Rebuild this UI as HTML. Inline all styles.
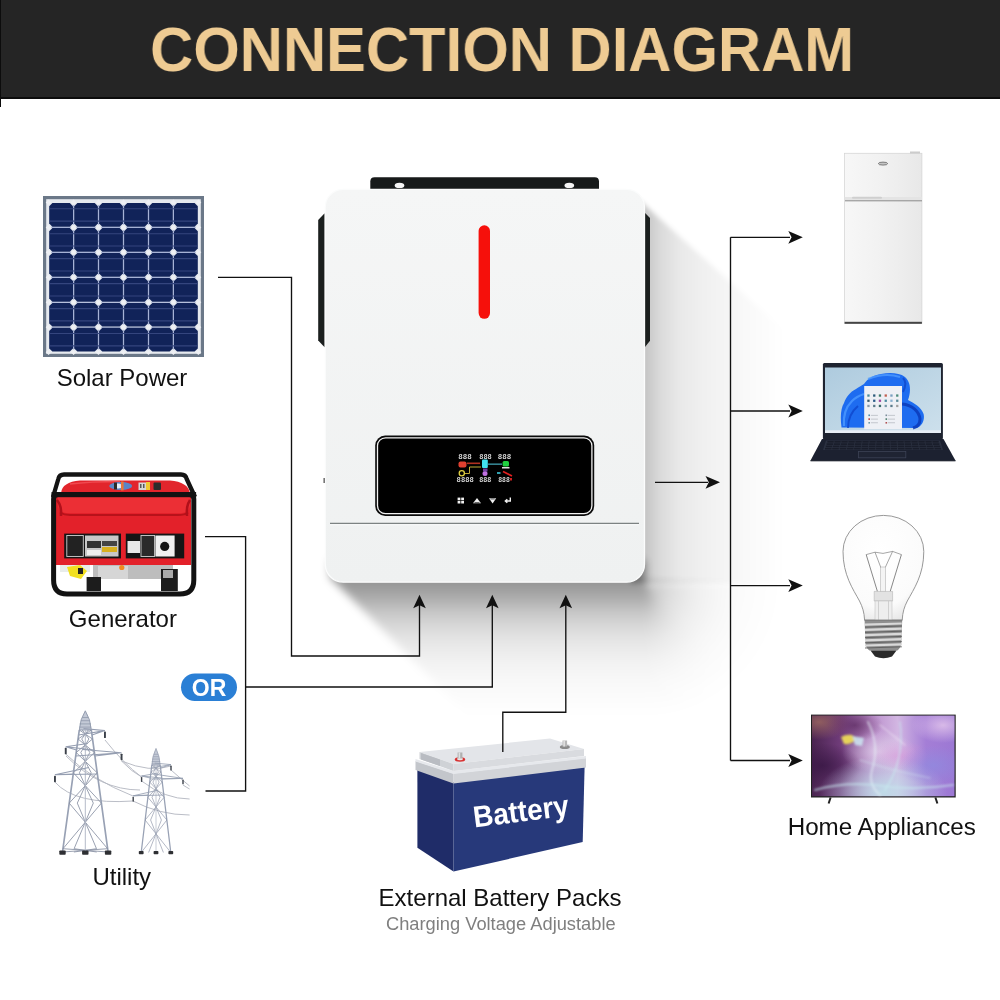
<!DOCTYPE html>
<html><head><meta charset="utf-8"><style>
html,body{margin:0;padding:0;background:#fff;width:1000px;height:1000px;overflow:hidden}
body{position:relative;font-family:"Liberation Sans", sans-serif}
</style></head><body>

<div style="position:absolute;left:0;top:0;width:1000px;height:97px;background:#252525"></div>
<div style="position:absolute;left:0;top:97px;width:1000px;height:2px;background:#0c0c0c"></div>
<div style="position:absolute;left:0;top:0;width:1.4px;height:107px;background:#0c0c0c"></div>
<div style="position:absolute;left:0;top:0;width:1000px;height:97px;overflow:hidden"><div id="title" style="position:absolute;left:150.4px;top:17.8px;font:bold 62.5px/1 'Liberation Sans', sans-serif;color:#eecb93;white-space:nowrap;transform-origin:0 0;transform:scaleX(0.9565);will-change:transform">CONNECTION DIAGRAM</div></div><div style="position:absolute;left:0;top:0;width:1000px;height:1000px;filter:blur(2.5px)"><div style="position:absolute;left:630px;top:180px;width:170px;height:600px;background:linear-gradient(to right,rgba(0,0,0,0.230) 0.0px,rgba(0,0,0,0.230) 15.0px,rgba(0,0,0,0.200) 20.0px,rgba(0,0,0,0.145) 30.0px,rgba(0,0,0,0.088) 50.0px,rgba(0,0,0,0.062) 70.0px,rgba(0,0,0,0.027) 110.0px,rgba(0,0,0,0.000) 155.0px);clip-path:polygon(11.0px 21.7px,160.0px 155.8px,160.0px 403.3px,0.0px 403.3px,0.0px 21.7px)"></div></div><div style="position:absolute;left:0;top:0;width:1000px;height:1000px;filter:blur(4px)"><div style="position:absolute;left:300px;top:560px;width:500px;height:180px;background:linear-gradient(to bottom,rgba(0,0,0,0.420) 0.0px,rgba(0,0,0,0.420) 22.0px,rgba(0,0,0,0.390) 27.0px,rgba(0,0,0,0.310) 40.0px,rgba(0,0,0,0.220) 52.0px,rgba(0,0,0,0.150) 67.0px,rgba(0,0,0,0.100) 80.0px,rgba(0,0,0,0.055) 100.0px,rgba(0,0,0,0.028) 120.0px,rgba(0,0,0,0.010) 140.0px,rgba(0,0,0,0.000) 157.0px);clip-path:polygon(30.0px 0.0px,345.0px 0.0px,345.0px 180.0px,192.8px 180.0px,30.0px 17.2px)"></div><div style="position:absolute;left:645px;top:582px;width:170px;height:170px;background:radial-gradient(circle at 0px 0px,rgba(0,0,0,0.420) 0.0px,rgba(0,0,0,0.390) 5.0px,rgba(0,0,0,0.310) 18.0px,rgba(0,0,0,0.220) 30.0px,rgba(0,0,0,0.150) 45.0px,rgba(0,0,0,0.100) 58.0px,rgba(0,0,0,0.055) 78.0px,rgba(0,0,0,0.028) 98.0px,rgba(0,0,0,0.010) 118.0px,rgba(0,0,0,0.000) 135.0px);-webkit-mask-image:conic-gradient(from 0deg at 0px 0px, transparent 0deg, transparent 89.5deg, rgba(0,0,0,0.5) 90deg, rgba(0,0,0,0.6) 135deg, #000 180deg, transparent 180.5deg);mask-image:conic-gradient(from 0deg at 0px 0px, transparent 0deg, transparent 89.5deg, rgba(0,0,0,0.5) 90deg, rgba(0,0,0,0.6) 135deg, #000 180deg, transparent 180.5deg)"></div></div><svg width="1000" height="1000" viewBox="0 0 1000 1000" style="position:absolute;left:0;top:0;will-change:transform" font-family='"Liberation Sans", sans-serif'>
<defs>
<filter id="blur3" x="-20%" y="-20%" width="140%" height="140%"><feGaussianBlur stdDeviation="2.5"/></filter>
<filter id="blur6" x="-20%" y="-20%" width="140%" height="140%"><feGaussianBlur stdDeviation="6"/></filter>
<filter id="blur10" x="-20%" y="-50%" width="140%" height="200%"><feGaussianBlur stdDeviation="10"/></filter>
<linearGradient id="botsh" gradientUnits="userSpaceOnUse" x1="0" y1="582" x2="0" y2="695"><stop offset="0" stop-color="#000" stop-opacity="0.25"/><stop offset="0.55" stop-color="#000" stop-opacity="0.12"/><stop offset="1" stop-color="#000" stop-opacity="0"/></linearGradient>
<radialGradient id="bulbg" cx="0.45" cy="0.35" r="0.7"><stop offset="0" stop-color="#ffffff"/><stop offset="0.75" stop-color="#fbfbfb"/><stop offset="1" stop-color="#e6e6e6"/></radialGradient>
<linearGradient id="invg" x1="0" y1="0" x2="0" y2="1"><stop offset="0" stop-color="#f5f6f6"/><stop offset="1" stop-color="#eff1f1"/></linearGradient>
<linearGradient id="fridg" x1="0" y1="0" x2="1" y2="0"><stop offset="0" stop-color="#f7f7f7"/><stop offset="0.5" stop-color="#f1f1f1"/><stop offset="1" stop-color="#e8e8e8"/></linearGradient>
<linearGradient id="scrg" x1="0" y1="0" x2="1" y2="1"><stop offset="0" stop-color="#aecbde"/><stop offset="1" stop-color="#cde0ec"/></linearGradient>
<linearGradient id="tvg" x1="0" y1="0" x2="1" y2="0"><stop offset="0" stop-color="#4a2450"/><stop offset="0.2" stop-color="#703c7a"/><stop offset="0.42" stop-color="#bb90cc"/><stop offset="0.6" stop-color="#d2b6e2"/><stop offset="0.8" stop-color="#a47ed6"/><stop offset="1" stop-color="#9c78d4"/></linearGradient>
<radialGradient id="tvr_dark" cx="0.07" cy="0.62" r="0.28"><stop offset="0" stop-color="#3a1846" stop-opacity="0.85"/><stop offset="1" stop-color="#3a1846" stop-opacity="0"/></radialGradient>
<radialGradient id="tvr_brown" cx="0.05" cy="0.08" r="0.22"><stop offset="0" stop-color="#9a6660" stop-opacity="0.85"/><stop offset="1" stop-color="#9a6660" stop-opacity="0"/></radialGradient>
<radialGradient id="tvr_light" cx="0.47" cy="0.45" r="0.26"><stop offset="0" stop-color="#ece6f4" stop-opacity="0.6"/><stop offset="1" stop-color="#ece6f4" stop-opacity="0"/></radialGradient>
<radialGradient id="tvr_cyan" cx="0.5" cy="0.95" r="0.45"><stop offset="0" stop-color="#bfe2ea" stop-opacity="0.9"/><stop offset="1" stop-color="#bfe2ea" stop-opacity="0"/></radialGradient>
<radialGradient id="tvr_pink" cx="0.62" cy="0.5" r="0.2"><stop offset="0" stop-color="#d48ed6" stop-opacity="0.55"/><stop offset="1" stop-color="#d48ed6" stop-opacity="0"/></radialGradient>
<radialGradient id="tvr_tr" cx="0.92" cy="0.12" r="0.22"><stop offset="0" stop-color="#f0d4f0" stop-opacity="0.7"/><stop offset="1" stop-color="#f0d4f0" stop-opacity="0"/></radialGradient>
<radialGradient id="tvr_blue" cx="0.85" cy="0.62" r="0.25"><stop offset="0" stop-color="#8a8ee2" stop-opacity="0.6"/><stop offset="1" stop-color="#8a8ee2" stop-opacity="0"/></radialGradient>
<radialGradient id="tvr_mag" cx="0.3" cy="0.12" r="0.2"><stop offset="0" stop-color="#5e2c62" stop-opacity="0.75"/><stop offset="1" stop-color="#6a3468" stop-opacity="0"/></radialGradient>
<filter id="blur08" x="-20%" y="-20%" width="140%" height="140%"><feGaussianBlur stdDeviation="0.8"/></filter>
</defs>
<path d="M370.3 189V181.5Q370.3 177.2 374.6 177.2H594.7Q599 177.2 599 181.5V189Z" fill="#171a1a"/>
<ellipse cx="399.5" cy="185.4" rx="4.8" ry="2.7" fill="#f6f6f6"/><ellipse cx="569.3" cy="185.4" rx="4.8" ry="2.7" fill="#f6f6f6"/>
<path d="M324.6 213.3L318.2 220V340.6L324.6 347.2Z" fill="#1b1f1e"/>
<path d="M644.6 212.5L650 218V340.8L644.6 347.4Z" fill="#1b1f1e"/>
<rect x="325.3" y="189.3" width="319.2" height="392.9" rx="18" fill="url(#invg)" stroke="#fbfcfc" stroke-width="1.3"/>
<rect x="478.6" y="225.3" width="11.4" height="93.5" rx="5.7" fill="#f6100b"/>
<rect x="375.2" y="435.5" width="219" height="80.5" rx="10" fill="#0a0a0a"/>
<rect x="377.5" y="437.8" width="214.4" height="75.9" rx="8" fill="#000" stroke="#f2f2f2" stroke-width="1.3"/>
<path d="M330 523.3H639" stroke="#7c8282" stroke-width="1.3"/>
<path d="M330 524.8H639" stroke="#fbfbfb" stroke-width="0.8"/>
<rect x="323.5" y="478" width="1.3" height="5" fill="#555"/>
<text x="458.3" y="458.6" font-family="Liberation Mono, monospace" font-weight="bold" font-size="7.4" fill="#d4d4d4" textLength="13.5" lengthAdjust="spacingAndGlyphs">888</text><text x="479.2" y="458.6" font-family="Liberation Mono, monospace" font-weight="bold" font-size="7.4" fill="#d4d4d4" textLength="12.6" lengthAdjust="spacingAndGlyphs">888</text><text x="497.8" y="458.6" font-family="Liberation Mono, monospace" font-weight="bold" font-size="7.4" fill="#d4d4d4" textLength="13.5" lengthAdjust="spacingAndGlyphs">888</text><text x="456.6" y="482.4" font-family="Liberation Mono, monospace" font-weight="bold" font-size="7.4" fill="#d4d4d4" textLength="17.2" lengthAdjust="spacingAndGlyphs">8888</text><text x="479.2" y="482.4" font-family="Liberation Mono, monospace" font-weight="bold" font-size="7.4" fill="#d4d4d4" textLength="12.2" lengthAdjust="spacingAndGlyphs">888</text><text x="498.2" y="482.4" font-family="Liberation Mono, monospace" font-weight="bold" font-size="7.4" fill="#d4d4d4" textLength="11.6" lengthAdjust="spacingAndGlyphs">888</text><rect x="458.5" y="461.5" width="8" height="6" rx="2" fill="#e04030"/><rect x="467" y="462.5" width="13" height="1.6" fill="#b03020"/><rect x="482" y="459.5" width="5.8" height="8.5" rx="1" fill="#40e0f0"/><rect x="488" y="463.5" width="14" height="1.3" fill="#40a0b0"/><rect x="502.6" y="461" width="6.4" height="5.5" rx="1.5" fill="#20d040"/><rect x="502" y="467" width="7.5" height="1.5" fill="#e0e0e0"/><path d="M464.5 473.5H469.5V467H481" stroke="#d8c040" stroke-width="0.9" fill="none"/><circle cx="461.8" cy="473.3" r="2.6" fill="none" stroke="#e0d040" stroke-width="1.3"/><circle cx="485" cy="473.6" r="2.5" fill="#c070e0"/><rect x="483" y="468.5" width="4.5" height="3" fill="#7040a0"/><rect x="497" y="472" width="3.5" height="2" fill="#30a0b0"/><path d="M503 471.5L512 476" stroke="#e02020" stroke-width="1.6"/><rect x="510" y="478" width="2" height="2.5" fill="#d02020"/><g fill="#f0f0f0"><rect x="457.6" y="497.6" width="2.8" height="2.6"/><rect x="461.2" y="497.6" width="2.8" height="2.6"/><rect x="457.6" y="500.9" width="2.8" height="2.6"/><rect x="461.2" y="500.9" width="2.8" height="2.6"/></g><path d="M473 503.2L477 498L481 503.2Z" fill="#f0f0f0"/><path d="M474.5 502.5H479.5" stroke="#111" stroke-width="0.6"/><path d="M489 498.2L492.6 503.4L496.2 498.2Z" fill="#f0f0f0"/><path d="M490.5 499H494.7" stroke="#111" stroke-width="0.6"/><path d="M510.3 497.5V501H505.6M507.3 499.2L505.3 501L507.3 502.8" stroke="#f0f0f0" stroke-width="1.4" fill="none"/>
<path d="M417.4 769L453.5 782.3V871.6L417.4 847.8Z" fill="#1f2c68"/>
<path d="M453.5 782.3L584.6 767L582.7 842L453.5 871.6Z" fill="#27397a"/>
<path d="M415.5 761L453.5 773.5V783.5L415.5 770Z" fill="#c3c6cb"/>
<path d="M453.5 773.5L586 758V767.5L453.5 783.5Z" fill="#d2d4d8"/>
<path d="M415.5 759L453.5 771L586 756V758.5L453.5 774L415.5 761.5Z" fill="#e6e8ec"/>
<path d="M419.5 752L453.5 764L584 749L550 738.5Z" fill="#e3e5e9"/>
<path d="M419.5 752L453.5 764V771L419.5 759Z" fill="#cfd2d6"/>
<path d="M453.5 764L584 749V756L453.5 771Z" fill="#d9dbdf"/>
<path d="M421 753L440 759.5V766L421 759.5Z" fill="#b9bcc2"/>
<ellipse cx="460" cy="759.5" rx="5.2" ry="2.2" fill="#d83232"/><ellipse cx="460" cy="759" rx="3" ry="1.2" fill="#e8e8e8"/><rect x="457.6" y="752.5" width="4.8" height="6" fill="#b0b0b0"/><rect x="458.6" y="752.5" width="1.6" height="6" fill="#e0e0e0"/>
<ellipse cx="564.8" cy="747" rx="5" ry="2" fill="#8a8a8a"/><rect x="562.5" y="740.5" width="4.6" height="6" fill="#b8b8b8"/><rect x="563.4" y="740.5" width="1.5" height="6" fill="#e4e4e4"/>
<text x="0" y="0" font-size="30" font-weight="bold" fill="#fff" transform="translate(474.5 827.5) rotate(-7.2) scale(0.93 1)">Battery</text>

<g stroke="#111" stroke-width="1.35" fill="none">
<path d="M218 277.3H291.5V656H419.5V605"/>
<path d="M205 536.6H245.6V791H205.5"/>
<path d="M245.6 687H492.3V605"/>
<path d="M502.8 752V712.2H565.8V605"/>
<path d="M655 482.3H708"/>
<path d="M730.5 237.3V760.5"/>
<path d="M730.5 237.3H790"/>
<path d="M730.5 411H790"/>
<path d="M730.5 585.6H790"/>
<path d="M730.5 760.5H790"/>
</g>
<g fill="#111">
<path d="M419.5 594.8 L425.8 608.3 L419.5 605.3 L413.2 608.3 Z"/><path d="M492.3 594.8 L498.6 608.3 L492.3 605.3 L486.0 608.3 Z"/><path d="M565.8 594.8 L572.1 608.3 L565.8 605.3 L559.5 608.3 Z"/><path d="M720.0 482.3 L705.5 475.9 L708.8 482.3 L705.5 488.7 Z"/><path d="M802.8 237.3 L788.3 230.9 L791.6 237.3 L788.3 243.7 Z"/><path d="M802.8 411.0 L788.3 404.6 L791.6 411.0 L788.3 417.4 Z"/><path d="M802.8 585.6 L788.3 579.2 L791.6 585.6 L788.3 592.0 Z"/><path d="M802.8 760.5 L788.3 754.1 L791.6 760.5 L788.3 766.9 Z"/></g>
<rect x="43" y="196" width="161" height="161" fill="#6b7888"/>
<rect x="46.2" y="199.2" width="154.6" height="154.6" fill="#e6eaef"/>
<path d="M73.57 203.0V351.4M49.2 227.37H197.8M98.53 203.0V351.4M49.2 252.33H197.8M123.50 203.0V351.4M49.2 277.30H197.8M148.47 203.0V351.4M49.2 302.27H197.8M173.43 203.0V351.4M49.2 327.23H197.8" stroke="#a6b2d6" stroke-width="1.2"/>
<g fill="#eef0f4"><polygon points="45.7,202.4 48.6,199.5 51.5,202.4 48.6,205.3"/><polygon points="70.7,202.4 73.6,199.5 76.5,202.4 73.6,205.3"/><polygon points="95.6,202.4 98.5,199.5 101.4,202.4 98.5,205.3"/><polygon points="120.6,202.4 123.5,199.5 126.4,202.4 123.5,205.3"/><polygon points="145.6,202.4 148.5,199.5 151.4,202.4 148.5,205.3"/><polygon points="170.5,202.4 173.4,199.5 176.3,202.4 173.4,205.3"/><polygon points="195.5,202.4 198.4,199.5 201.3,202.4 198.4,205.3"/><polygon points="45.7,227.4 48.6,224.5 51.5,227.4 48.6,230.3"/><polygon points="70.7,227.4 73.6,224.5 76.5,227.4 73.6,230.3"/><polygon points="95.6,227.4 98.5,224.5 101.4,227.4 98.5,230.3"/><polygon points="120.6,227.4 123.5,224.5 126.4,227.4 123.5,230.3"/><polygon points="145.6,227.4 148.5,224.5 151.4,227.4 148.5,230.3"/><polygon points="170.5,227.4 173.4,224.5 176.3,227.4 173.4,230.3"/><polygon points="195.5,227.4 198.4,224.5 201.3,227.4 198.4,230.3"/><polygon points="45.7,252.3 48.6,249.4 51.5,252.3 48.6,255.2"/><polygon points="70.7,252.3 73.6,249.4 76.5,252.3 73.6,255.2"/><polygon points="95.6,252.3 98.5,249.4 101.4,252.3 98.5,255.2"/><polygon points="120.6,252.3 123.5,249.4 126.4,252.3 123.5,255.2"/><polygon points="145.6,252.3 148.5,249.4 151.4,252.3 148.5,255.2"/><polygon points="170.5,252.3 173.4,249.4 176.3,252.3 173.4,255.2"/><polygon points="195.5,252.3 198.4,249.4 201.3,252.3 198.4,255.2"/><polygon points="45.7,277.3 48.6,274.4 51.5,277.3 48.6,280.2"/><polygon points="70.7,277.3 73.6,274.4 76.5,277.3 73.6,280.2"/><polygon points="95.6,277.3 98.5,274.4 101.4,277.3 98.5,280.2"/><polygon points="120.6,277.3 123.5,274.4 126.4,277.3 123.5,280.2"/><polygon points="145.6,277.3 148.5,274.4 151.4,277.3 148.5,280.2"/><polygon points="170.5,277.3 173.4,274.4 176.3,277.3 173.4,280.2"/><polygon points="195.5,277.3 198.4,274.4 201.3,277.3 198.4,280.2"/><polygon points="45.7,302.3 48.6,299.4 51.5,302.3 48.6,305.2"/><polygon points="70.7,302.3 73.6,299.4 76.5,302.3 73.6,305.2"/><polygon points="95.6,302.3 98.5,299.4 101.4,302.3 98.5,305.2"/><polygon points="120.6,302.3 123.5,299.4 126.4,302.3 123.5,305.2"/><polygon points="145.6,302.3 148.5,299.4 151.4,302.3 148.5,305.2"/><polygon points="170.5,302.3 173.4,299.4 176.3,302.3 173.4,305.2"/><polygon points="195.5,302.3 198.4,299.4 201.3,302.3 198.4,305.2"/><polygon points="45.7,327.2 48.6,324.3 51.5,327.2 48.6,330.1"/><polygon points="70.7,327.2 73.6,324.3 76.5,327.2 73.6,330.1"/><polygon points="95.6,327.2 98.5,324.3 101.4,327.2 98.5,330.1"/><polygon points="120.6,327.2 123.5,324.3 126.4,327.2 123.5,330.1"/><polygon points="145.6,327.2 148.5,324.3 151.4,327.2 148.5,330.1"/><polygon points="170.5,327.2 173.4,324.3 176.3,327.2 173.4,330.1"/><polygon points="195.5,327.2 198.4,324.3 201.3,327.2 198.4,330.1"/><polygon points="45.7,352.2 48.6,349.3 51.5,352.2 48.6,355.1"/><polygon points="70.7,352.2 73.6,349.3 76.5,352.2 73.6,355.1"/><polygon points="95.6,352.2 98.5,349.3 101.4,352.2 98.5,355.1"/><polygon points="120.6,352.2 123.5,349.3 126.4,352.2 123.5,355.1"/><polygon points="145.6,352.2 148.5,349.3 151.4,352.2 148.5,355.1"/><polygon points="170.5,352.2 173.4,349.3 176.3,352.2 173.4,355.1"/><polygon points="195.5,352.2 198.4,349.3 201.3,352.2 198.4,355.1"/></g>
<g fill="#112359"><polygon points="52.4,203.0 69.8,203.0 73.0,206.2 73.0,223.6 69.8,226.8 52.4,226.8 49.2,223.6 49.2,206.2"/><polygon points="77.4,203.0 94.7,203.0 97.9,206.2 97.9,223.6 94.7,226.8 77.4,226.8 74.2,223.6 74.2,206.2"/><polygon points="102.3,203.0 119.7,203.0 122.9,206.2 122.9,223.6 119.7,226.8 102.3,226.8 99.1,223.6 99.1,206.2"/><polygon points="127.3,203.0 144.7,203.0 147.9,206.2 147.9,223.6 144.7,226.8 127.3,226.8 124.1,223.6 124.1,206.2"/><polygon points="152.3,203.0 169.6,203.0 172.8,206.2 172.8,223.6 169.6,226.8 152.3,226.8 149.1,223.6 149.1,206.2"/><polygon points="177.2,203.0 194.6,203.0 197.8,206.2 197.8,223.6 194.6,226.8 177.2,226.8 174.0,223.6 174.0,206.2"/><polygon points="52.4,228.0 69.8,228.0 73.0,231.2 73.0,248.5 69.8,251.7 52.4,251.7 49.2,248.5 49.2,231.2"/><polygon points="77.4,228.0 94.7,228.0 97.9,231.2 97.9,248.5 94.7,251.7 77.4,251.7 74.2,248.5 74.2,231.2"/><polygon points="102.3,228.0 119.7,228.0 122.9,231.2 122.9,248.5 119.7,251.7 102.3,251.7 99.1,248.5 99.1,231.2"/><polygon points="127.3,228.0 144.7,228.0 147.9,231.2 147.9,248.5 144.7,251.7 127.3,251.7 124.1,248.5 124.1,231.2"/><polygon points="152.3,228.0 169.6,228.0 172.8,231.2 172.8,248.5 169.6,251.7 152.3,251.7 149.1,248.5 149.1,231.2"/><polygon points="177.2,228.0 194.6,228.0 197.8,231.2 197.8,248.5 194.6,251.7 177.2,251.7 174.0,248.5 174.0,231.2"/><polygon points="52.4,252.9 69.8,252.9 73.0,256.1 73.0,273.5 69.8,276.7 52.4,276.7 49.2,273.5 49.2,256.1"/><polygon points="77.4,252.9 94.7,252.9 97.9,256.1 97.9,273.5 94.7,276.7 77.4,276.7 74.2,273.5 74.2,256.1"/><polygon points="102.3,252.9 119.7,252.9 122.9,256.1 122.9,273.5 119.7,276.7 102.3,276.7 99.1,273.5 99.1,256.1"/><polygon points="127.3,252.9 144.7,252.9 147.9,256.1 147.9,273.5 144.7,276.7 127.3,276.7 124.1,273.5 124.1,256.1"/><polygon points="152.3,252.9 169.6,252.9 172.8,256.1 172.8,273.5 169.6,276.7 152.3,276.7 149.1,273.5 149.1,256.1"/><polygon points="177.2,252.9 194.6,252.9 197.8,256.1 197.8,273.5 194.6,276.7 177.2,276.7 174.0,273.5 174.0,256.1"/><polygon points="52.4,277.9 69.8,277.9 73.0,281.1 73.0,298.5 69.8,301.7 52.4,301.7 49.2,298.5 49.2,281.1"/><polygon points="77.4,277.9 94.7,277.9 97.9,281.1 97.9,298.5 94.7,301.7 77.4,301.7 74.2,298.5 74.2,281.1"/><polygon points="102.3,277.9 119.7,277.9 122.9,281.1 122.9,298.5 119.7,301.7 102.3,301.7 99.1,298.5 99.1,281.1"/><polygon points="127.3,277.9 144.7,277.9 147.9,281.1 147.9,298.5 144.7,301.7 127.3,301.7 124.1,298.5 124.1,281.1"/><polygon points="152.3,277.9 169.6,277.9 172.8,281.1 172.8,298.5 169.6,301.7 152.3,301.7 149.1,298.5 149.1,281.1"/><polygon points="177.2,277.9 194.6,277.9 197.8,281.1 197.8,298.5 194.6,301.7 177.2,301.7 174.0,298.5 174.0,281.1"/><polygon points="52.4,302.9 69.8,302.9 73.0,306.1 73.0,323.4 69.8,326.6 52.4,326.6 49.2,323.4 49.2,306.1"/><polygon points="77.4,302.9 94.7,302.9 97.9,306.1 97.9,323.4 94.7,326.6 77.4,326.6 74.2,323.4 74.2,306.1"/><polygon points="102.3,302.9 119.7,302.9 122.9,306.1 122.9,323.4 119.7,326.6 102.3,326.6 99.1,323.4 99.1,306.1"/><polygon points="127.3,302.9 144.7,302.9 147.9,306.1 147.9,323.4 144.7,326.6 127.3,326.6 124.1,323.4 124.1,306.1"/><polygon points="152.3,302.9 169.6,302.9 172.8,306.1 172.8,323.4 169.6,326.6 152.3,326.6 149.1,323.4 149.1,306.1"/><polygon points="177.2,302.9 194.6,302.9 197.8,306.1 197.8,323.4 194.6,326.6 177.2,326.6 174.0,323.4 174.0,306.1"/><polygon points="52.4,327.8 69.8,327.8 73.0,331.0 73.0,348.4 69.8,351.6 52.4,351.6 49.2,348.4 49.2,331.0"/><polygon points="77.4,327.8 94.7,327.8 97.9,331.0 97.9,348.4 94.7,351.6 77.4,351.6 74.2,348.4 74.2,331.0"/><polygon points="102.3,327.8 119.7,327.8 122.9,331.0 122.9,348.4 119.7,351.6 102.3,351.6 99.1,348.4 99.1,331.0"/><polygon points="127.3,327.8 144.7,327.8 147.9,331.0 147.9,348.4 144.7,351.6 127.3,351.6 124.1,348.4 124.1,331.0"/><polygon points="152.3,327.8 169.6,327.8 172.8,331.0 172.8,348.4 169.6,351.6 152.3,351.6 149.1,348.4 149.1,331.0"/><polygon points="177.2,327.8 194.6,327.8 197.8,331.0 197.8,348.4 194.6,351.6 177.2,351.6 174.0,348.4 174.0,331.0"/></g>
<path d="M49.7 208.7H197.3M49.7 221.1H197.3M49.7 233.7H197.3M49.7 246.0H197.3M49.7 258.6H197.3M49.7 271.0H197.3M49.7 283.6H197.3M49.7 296.0H197.3M49.7 308.6H197.3M49.7 320.9H197.3M49.7 333.5H197.3M49.7 345.9H197.3" stroke="#34457e" stroke-width="1.1" fill="none"/>
<path d="M53 497L58.3 479Q59.3 474.5 64 474.5H181Q185.7 474.5 186.7 479L195 497" stroke="#141414" stroke-width="4.3" fill="none"/>
<path d="M61 493Q62 482 80 480.5H170Q188 482 190 493Z" fill="#e2252c"/>
<path d="M70 484Q90 481.5 120 481.5" stroke="#f04a50" stroke-width="1.5" fill="none"/>
<ellipse cx="120.7" cy="486" rx="11.5" ry="4" fill="#5a86c8"/>
<ellipse cx="118" cy="486" rx="4" ry="2.5" fill="#e8eef8"/><rect x="114" y="482.5" width="3" height="7" fill="#2a2a2a"/>
<rect x="121" y="481.5" width="2.6" height="9" fill="#e8773a"/>
<rect x="138.5" y="482.5" width="7.5" height="7.5" fill="#d6d6d6"/><rect x="140" y="484" width="1.5" height="4" fill="#555"/><rect x="143" y="484" width="1.5" height="4" fill="#555"/>
<rect x="146" y="482" width="4" height="8" fill="#f0c830"/><rect x="153.5" y="482.5" width="7.5" height="7.5" rx="1" fill="#2c2c2c"/>
<rect x="56" y="497" width="135" height="68" fill="#e3212a"/>
<path d="M58 497H190V506Q189 512 182 513H66Q59 512 58 506Z" fill="#ec2f35"/>
<path d="M60 512.5Q64 515 70 515H178Q185 515 188 512.5" stroke="#b8121a" stroke-width="2" fill="none"/>
<path d="M57 500Q62 506 61 516" stroke="#b0101a" stroke-width="2.5" fill="none"/>
<path d="M190 500Q186 506 187 516" stroke="#b0101a" stroke-width="2.5" fill="none"/>
<rect x="51.5" y="492" width="144.6" height="5.2" fill="#141414"/>
<rect x="64.2" y="533.6" width="56.8" height="24.8" fill="#151515"/>
<rect x="125.8" y="533.6" width="58.4" height="24.8" fill="#151515"/>
<rect x="66.8" y="535.5" width="16.5" height="21" fill="#222" stroke="#cfcfcf" stroke-width="0.9"/>
<rect x="85" y="535.5" width="33.5" height="21" fill="#c8c8c8"/>
<rect x="87" y="541" width="14" height="7" fill="#333"/><rect x="102" y="541" width="15" height="5" fill="#444"/><rect x="102" y="547" width="15" height="5" fill="#d8b020"/><rect x="87" y="550" width="14" height="5" fill="#eee"/>
<rect x="127.5" y="541" width="12.5" height="12" fill="#e8e8e8"/>
<rect x="141" y="535.5" width="13.6" height="21" fill="#2a2a2a" stroke="#cfcfcf" stroke-width="0.9"/>
<rect x="155.4" y="535.5" width="19.2" height="21" fill="#f0f0f0"/>
<circle cx="164.7" cy="546.4" r="4.6" fill="#151515"/>
<rect x="93" y="565" width="80" height="14" fill="#bdbdbd"/>
<rect x="98" y="566" width="30" height="13" fill="#d6d6d6"/>
<rect x="60" y="565" width="30" height="7" fill="#e8ecea"/>
<path d="M67 567L80 565L87 571L81 579L70 576Z" fill="#f2e020"/>
<rect x="78" y="568" width="5" height="6" fill="#222"/>
<circle cx="121.8" cy="567.5" r="2.6" fill="#f08a20"/>
<rect x="86.6" y="577" width="14.4" height="14" fill="#1c1c1c"/>
<rect x="161" y="569" width="16.8" height="22" fill="#1c1c1c"/><rect x="163" y="570" width="10" height="8" fill="#aaa"/>
<path d="M53.6 499Q53.6 494.6 58 494.6H189.4Q193.8 494.6 193.8 499V580Q193.8 594 180 594H67Q53.6 594 53.6 580Z" stroke="#121212" stroke-width="5" fill="none"/>
<g stroke="#b2b6bf" stroke-width="0.9" fill="none"><path d="M105 740Q124 764 141.6 777"/><path d="M121.5 761Q132 772 141.6 777"/><path d="M65.7 754Q92 780 133 796"/><path d="M121.5 761Q150 773 171 766"/><path d="M54.9 782Q75 805 133 801"/><path d="M66 756Q100 790 140 790"/><path d="M171 770Q180 778 189.6 786"/><path d="M183 785Q186 787 189.6 789"/><path d="M141.6 781Q165 799 189.6 799"/><path d="M133 801Q160 815 189.6 815"/></g>
<path d="M85.3 710.8Q79.9 719.4 79.3 730.0L91.3 730.0Q90.7 719.4 85.3 710.8Z" fill="#c3c9d6" stroke="#8f98ab" stroke-width="0.90"/>
<path d="M82.4 717.5H88.2M81.0 720.7H89.6M79.6 723.9H91.0M79.3 727.1H91.3" stroke="#8a93a6" stroke-width="0.70"/>
<path d="M79.3 730.0L62.5 852.0M91.3 730.0L108.1 852.0" stroke="#98a1b4" stroke-width="1.70" fill="none"/>
<path d="M79.3 730.0L92.5 739.0M91.3 730.0L78.1 739.0M82.3 730.0L88.9 739.0M88.3 730.0L81.7 739.0M78.1 739.0L94.4 752.5M92.5 739.0L76.2 752.5M81.7 739.0L89.8 752.5M88.9 739.0L80.8 752.5M76.2 752.5L97.2 772.8M94.4 752.5L73.4 772.8M80.8 752.5L91.2 772.8M89.8 752.5L79.4 772.8M73.4 772.8L101.4 803.1M97.2 772.8L69.2 803.1M79.4 772.8L93.3 803.1M91.2 772.8L77.3 803.1M69.2 803.1L107.6 848.7M101.4 803.1L63.0 848.7M77.3 803.1L96.5 848.7M93.3 803.1L74.1 848.7M63.0 848.7L108.1 852.0M107.6 848.7L62.5 852.0M74.1 848.7L96.7 852.0M96.5 848.7L73.9 852.0" stroke="#8890a3" stroke-width="0.85" fill="none"/>
<path d="M85.3 730.0V852.0" stroke="#b4bbc8" stroke-width="1.00"/>
<path d="M83.5 728.5L104.9 730.6L92.0 735.0M78.6 735.0L104.9 730.6M87.8 743.5L65.7 746.8L76.5 750.0M94.1 750.0L65.7 746.8M82.6 749.5L121.5 752.7L94.9 756.0M75.7 756.0L121.5 752.7M88.8 767.5L54.9 774.7L73.2 774.0M97.4 774.0L54.9 774.7" stroke="#959eb1" stroke-width="1.10" fill="none"/>
<rect x="104.0" y="731.6" width="1.9" height="6.5" rx="0.6" fill="#3b4049"/><rect x="64.8" y="747.8" width="1.9" height="6.5" rx="0.6" fill="#3b4049"/><rect x="120.6" y="753.7" width="1.9" height="6.5" rx="0.6" fill="#3b4049"/><rect x="54.0" y="775.7" width="1.9" height="6.5" rx="0.6" fill="#3b4049"/>
<rect x="59.3" y="850.5" width="6.4" height="4.2" rx="0.8" fill="#2e2f33"/>
<rect x="82.1" y="850.5" width="6.4" height="4.2" rx="0.8" fill="#2e2f33"/>
<rect x="104.9" y="850.5" width="6.4" height="4.2" rx="0.8" fill="#2e2f33"/>
<path d="M156.0 748.4Q152.2 756.0 151.8 765.2L160.2 765.2Q159.8 756.0 156.0 748.4Z" fill="#c3c9d6" stroke="#8f98ab" stroke-width="0.68"/>
<path d="M153.9 754.3H158.1M153.1 756.7H158.9M152.3 759.1H159.7M151.8 761.5H160.2M151.8 763.9H160.2" stroke="#8a93a6" stroke-width="0.52"/>
<path d="M151.8 765.2L141.2 852.5M160.2 765.2L170.8 852.5" stroke="#98a1b4" stroke-width="1.27" fill="none"/>
<path d="M151.8 765.2L161.0 772.0M160.2 765.2L151.0 772.0M153.9 765.2L158.5 772.0M158.1 765.2L153.5 772.0M151.0 772.0L162.2 782.1M161.0 772.0L149.8 782.1M153.5 772.0L159.1 782.1M158.5 772.0L152.9 782.1M149.8 782.1L164.1 797.3M162.2 782.1L147.9 797.3M152.9 782.1L160.0 797.3M159.1 782.1L152.0 797.3M147.9 797.3L166.9 820.0M164.1 797.3L145.1 820.0M152.0 797.3L161.4 820.0M160.0 797.3L150.6 820.0M145.1 820.0L170.8 852.5M166.9 820.0L141.2 852.5M150.6 820.0L163.4 852.5M161.4 820.0L148.6 852.5" stroke="#8890a3" stroke-width="0.64" fill="none"/>
<path d="M156.0 765.2V852.5" stroke="#b4bbc8" stroke-width="0.75"/>
<path d="M154.7 763.1L171.0 764.6L160.5 768.0M151.5 768.0L171.0 764.6M157.6 773.1L141.6 776.0L150.2 778.0M161.8 778.0L141.6 776.0M154.3 774.1L183.0 778.4L161.9 779.0M150.1 779.0L183.0 778.4M158.2 790.1L133.2 795.8L148.2 795.0M163.8 795.0L133.2 795.8" stroke="#959eb1" stroke-width="0.83" fill="none"/>
<rect x="170.3" y="765.6" width="1.4" height="4.9" rx="0.6" fill="#3b4049"/><rect x="140.9" y="777.0" width="1.4" height="4.9" rx="0.6" fill="#3b4049"/><rect x="182.3" y="779.4" width="1.4" height="4.9" rx="0.6" fill="#3b4049"/><rect x="132.5" y="796.8" width="1.4" height="4.9" rx="0.6" fill="#3b4049"/>
<rect x="138.8" y="851.0" width="4.8" height="3.2" rx="0.8" fill="#2e2f33"/>
<rect x="153.6" y="851.0" width="4.8" height="3.2" rx="0.8" fill="#2e2f33"/>
<rect x="168.4" y="851.0" width="4.8" height="3.2" rx="0.8" fill="#2e2f33"/>

<rect x="181" y="673.5" width="56" height="27.5" rx="13.75" fill="#2a7fd5"/>
<text x="209" y="695.6" font-size="23" fill="#fff" font-weight="bold" text-anchor="middle" >OR</text>
<rect x="844.6" y="153.3" width="77.3" height="170" fill="url(#fridg)"/>
<rect x="844.6" y="153.3" width="77.3" height="170" fill="none" stroke="#d6d6d6" stroke-width="0.8"/>
<rect x="844.6" y="197" width="77.3" height="3.5" fill="#e4e4e4"/>
<path d="M845 200.8H922" stroke="#8a8a8a" stroke-width="1"/>
<rect x="852" y="196.8" width="30" height="2" rx="1" fill="#cfcfcf"/>
<ellipse cx="883" cy="163.6" rx="4.6" ry="1.5" fill="#c4c4c4" stroke="#555" stroke-width="0.7"/>
<rect x="844.6" y="321.8" width="77.3" height="2" fill="#444"/>
<rect x="910" y="151.5" width="10" height="2" fill="#ccc"/>
<rect x="822.9" y="363" width="120" height="76.5" rx="1.5" fill="#1e2330"/>
<rect x="825" y="367.5" width="116" height="65.5" fill="url(#scrg)"/>
<path d="M841.5 427.4C840 416 841 408 844 403C846 397 850 392 856 389C859 387 862 385 864 384C868 378 874 375 881 374C889 372.5 899 372.5 905 377C911 382 911 392 908 400C914 403 921 407 923.6 414C925 420 922 426 917 428Z" fill="#1e6cf0"/>
<path d="M844 426C843 415 846 407 852 401C856 397 861 395 864 394" stroke="#4a98ff" stroke-width="2.2" fill="none" opacity="0.85"/>
<path d="M848 428C848 418 852 411 858 406" stroke="#0e46cc" stroke-width="2" fill="none" opacity="0.8"/>
<path d="M868 379C878 375 890 374 900 377" stroke="#4d9bff" stroke-width="2" fill="none" opacity="0.8"/>
<path d="M902 404C912 405 919 411 920 419C920 424 917 427 913 428" stroke="#0a3ab8" stroke-width="3" fill="none" opacity="0.85"/>
<path d="M903 392C906 386 906 381 903 378" stroke="#0c42c4" stroke-width="2" fill="none" opacity="0.7"/>
<rect x="864.2" y="386" width="37.8" height="43.2" fill="#eef0f5"/>
<rect x="867.3" y="394.4" width="2.3" height="2.3" fill="#4a8a9a"/><rect x="873.1" y="394.4" width="2.3" height="2.3" fill="#2a5a7a"/><rect x="878.8" y="394.4" width="2.3" height="2.3" fill="#3a7a6a"/><rect x="884.6" y="394.4" width="2.3" height="2.3" fill="#c06050"/><rect x="890.3" y="394.4" width="2.3" height="2.3" fill="#7aa0c0"/><rect x="896.1" y="394.4" width="2.3" height="2.3" fill="#4a8a7a"/><rect x="867.3" y="399.6" width="2.3" height="2.3" fill="#3a5a6a"/><rect x="873.1" y="399.6" width="2.3" height="2.3" fill="#2a5a8a"/><rect x="878.8" y="399.6" width="2.3" height="2.3" fill="#a04aa0"/><rect x="884.6" y="399.6" width="2.3" height="2.3" fill="#4a8aa0"/><rect x="890.3" y="399.6" width="2.3" height="2.3" fill="#8ab0d0"/><rect x="896.1" y="399.6" width="2.3" height="2.3" fill="#5a8a9a"/><rect x="867.3" y="404.8" width="2.3" height="2.3" fill="#8a9aaa"/><rect x="873.1" y="404.8" width="2.3" height="2.3" fill="#5a7a8a"/><rect x="878.8" y="404.8" width="2.3" height="2.3" fill="#3a6a6a"/><rect x="884.6" y="404.8" width="2.3" height="2.3" fill="#7a9aaa"/><rect x="890.3" y="404.8" width="2.3" height="2.3" fill="#5a7a8a"/><rect x="896.1" y="404.8" width="2.3" height="2.3" fill="#a0a0a0"/><rect x="868.4" y="414.5" width="1.6" height="1.6" fill="#4a8aaa"/><rect x="870.9" y="414.9" width="7" height="0.8" fill="#b8bcc4"/><rect x="868.4" y="418.3" width="1.6" height="1.6" fill="#c04040"/><rect x="870.9" y="418.7" width="7" height="0.8" fill="#b8bcc4"/><rect x="868.4" y="422.0" width="1.6" height="1.6" fill="#6a9aaa"/><rect x="870.9" y="422.4" width="7" height="0.8" fill="#b8bcc4"/><rect x="885.5" y="414.5" width="1.6" height="1.6" fill="#7a8a9a"/><rect x="888.0" y="414.9" width="7" height="0.8" fill="#b8bcc4"/><rect x="885.5" y="418.3" width="1.6" height="1.6" fill="#4a7a6a"/><rect x="888.0" y="418.7" width="7" height="0.8" fill="#b8bcc4"/><rect x="885.5" y="422.0" width="1.6" height="1.6" fill="#b05050"/><rect x="888.0" y="422.4" width="7" height="0.8" fill="#b8bcc4"/>
<rect x="825" y="430.3" width="116" height="2.7" fill="#e8eef4"/>
<path d="M822 439H943.5L955.6 460.8H810.4Z" fill="#1c2130"/>
<path d="M826 440.5H940L943 450H823Z" fill="#2b3141"/>
<rect x="827.4" y="441.0" width="6.3" height="1.6" fill="#191d2a"/><rect x="834.4" y="441.0" width="6.3" height="1.6" fill="#191d2a"/><rect x="841.4" y="441.0" width="6.3" height="1.6" fill="#191d2a"/><rect x="848.4" y="441.0" width="6.3" height="1.6" fill="#191d2a"/><rect x="855.4" y="441.0" width="6.3" height="1.6" fill="#191d2a"/><rect x="862.4" y="441.0" width="6.3" height="1.6" fill="#191d2a"/><rect x="869.4" y="441.0" width="6.3" height="1.6" fill="#191d2a"/><rect x="876.4" y="441.0" width="6.3" height="1.6" fill="#191d2a"/><rect x="883.4" y="441.0" width="6.3" height="1.6" fill="#191d2a"/><rect x="890.4" y="441.0" width="6.3" height="1.6" fill="#191d2a"/><rect x="897.4" y="441.0" width="6.3" height="1.6" fill="#191d2a"/><rect x="904.4" y="441.0" width="6.3" height="1.6" fill="#191d2a"/><rect x="911.4" y="441.0" width="6.3" height="1.6" fill="#191d2a"/><rect x="918.4" y="441.0" width="6.3" height="1.6" fill="#191d2a"/><rect x="925.4" y="441.0" width="6.3" height="1.6" fill="#191d2a"/><rect x="932.4" y="441.0" width="6.3" height="1.6" fill="#191d2a"/><rect x="826.6" y="443.3" width="6.4" height="1.6" fill="#191d2a"/><rect x="833.7" y="443.3" width="6.4" height="1.6" fill="#191d2a"/><rect x="840.8" y="443.3" width="6.4" height="1.6" fill="#191d2a"/><rect x="847.9" y="443.3" width="6.4" height="1.6" fill="#191d2a"/><rect x="855.0" y="443.3" width="6.4" height="1.6" fill="#191d2a"/><rect x="862.1" y="443.3" width="6.4" height="1.6" fill="#191d2a"/><rect x="869.1" y="443.3" width="6.4" height="1.6" fill="#191d2a"/><rect x="876.2" y="443.3" width="6.4" height="1.6" fill="#191d2a"/><rect x="883.4" y="443.3" width="6.4" height="1.6" fill="#191d2a"/><rect x="890.5" y="443.3" width="6.4" height="1.6" fill="#191d2a"/><rect x="897.6" y="443.3" width="6.4" height="1.6" fill="#191d2a"/><rect x="904.6" y="443.3" width="6.4" height="1.6" fill="#191d2a"/><rect x="911.8" y="443.3" width="6.4" height="1.6" fill="#191d2a"/><rect x="918.9" y="443.3" width="6.4" height="1.6" fill="#191d2a"/><rect x="925.9" y="443.3" width="6.4" height="1.6" fill="#191d2a"/><rect x="933.0" y="443.3" width="6.4" height="1.6" fill="#191d2a"/><rect x="825.8" y="445.6" width="6.5" height="1.6" fill="#191d2a"/><rect x="833.0" y="445.6" width="6.5" height="1.6" fill="#191d2a"/><rect x="840.1" y="445.6" width="6.5" height="1.6" fill="#191d2a"/><rect x="847.4" y="445.6" width="6.5" height="1.6" fill="#191d2a"/><rect x="854.6" y="445.6" width="6.5" height="1.6" fill="#191d2a"/><rect x="861.8" y="445.6" width="6.5" height="1.6" fill="#191d2a"/><rect x="869.0" y="445.6" width="6.5" height="1.6" fill="#191d2a"/><rect x="876.1" y="445.6" width="6.5" height="1.6" fill="#191d2a"/><rect x="883.4" y="445.6" width="6.5" height="1.6" fill="#191d2a"/><rect x="890.6" y="445.6" width="6.5" height="1.6" fill="#191d2a"/><rect x="897.8" y="445.6" width="6.5" height="1.6" fill="#191d2a"/><rect x="905.0" y="445.6" width="6.5" height="1.6" fill="#191d2a"/><rect x="912.1" y="445.6" width="6.5" height="1.6" fill="#191d2a"/><rect x="919.4" y="445.6" width="6.5" height="1.6" fill="#191d2a"/><rect x="926.6" y="445.6" width="6.5" height="1.6" fill="#191d2a"/><rect x="933.8" y="445.6" width="6.5" height="1.6" fill="#191d2a"/><rect x="825.0" y="447.9" width="6.6" height="1.6" fill="#191d2a"/><rect x="832.2" y="447.9" width="6.6" height="1.6" fill="#191d2a"/><rect x="839.6" y="447.9" width="6.6" height="1.6" fill="#191d2a"/><rect x="846.9" y="447.9" width="6.6" height="1.6" fill="#191d2a"/><rect x="854.1" y="447.9" width="6.6" height="1.6" fill="#191d2a"/><rect x="861.5" y="447.9" width="6.6" height="1.6" fill="#191d2a"/><rect x="868.8" y="447.9" width="6.6" height="1.6" fill="#191d2a"/><rect x="876.1" y="447.9" width="6.6" height="1.6" fill="#191d2a"/><rect x="883.4" y="447.9" width="6.6" height="1.6" fill="#191d2a"/><rect x="890.6" y="447.9" width="6.6" height="1.6" fill="#191d2a"/><rect x="898.0" y="447.9" width="6.6" height="1.6" fill="#191d2a"/><rect x="905.2" y="447.9" width="6.6" height="1.6" fill="#191d2a"/><rect x="912.6" y="447.9" width="6.6" height="1.6" fill="#191d2a"/><rect x="919.9" y="447.9" width="6.6" height="1.6" fill="#191d2a"/><rect x="927.1" y="447.9" width="6.6" height="1.6" fill="#191d2a"/><rect x="934.5" y="447.9" width="6.6" height="1.6" fill="#191d2a"/>
<rect x="858.6" y="451.4" width="47.2" height="6.4" fill="#1f2433" stroke="#3c4356" stroke-width="0.8"/>
<path d="M810.5 460.8H955.5" stroke="#111522" stroke-width="1"/>
<path d="M864.6 620.2C864.2 612 862.5 607 859.5 601C853 589 843 575 843 551.4A40.4 36 0 0 1 923.8 551.4C923.8 575 913.8 589 907.3 601C904.3 607 902.6 612 902.2 620.2Z" fill="url(#bulbg)" stroke="#8c8c8c" stroke-width="0.9"/>
<path d="M866.2 554.6L877.4 591.4M901.4 554.6L890.2 591.4" stroke="#555" stroke-width="0.7" fill="none"/>
<path d="M866.2 554.6L875 552.2L883 553.4L892.6 551.4L901.4 554.6M875 552.2L881 568M892.6 551.4L885 568" stroke="#6a6a6a" stroke-width="0.6" fill="none"/>
<rect x="880.6" y="567" width="5" height="25" fill="#f4f4f4" stroke="#a8a8a8" stroke-width="0.5"/>
<path d="M874.2 591.4H892.6V601H874.2Z" fill="#e2e2e2" stroke="#aaa" stroke-width="0.5"/>
<path d="M875 601H892V620H875Z" fill="#eeeeee" stroke="#b8b8b8" stroke-width="0.5"/>
<path d="M878.5 601V620M888.5 601V620" stroke="#c8c8c8" stroke-width="0.8"/>
<path d="M864.6 620.2H902.2L901.4 642Q901 648 897.4 650.5H869.4Q865.6 648 865.4 642Z" fill="#8e8e8e"/>
<path d="M865 624.7L901.8 623.5M865 629.9L901.8 628.7M865 635.1L901.8 633.9M865 640.3L901.8 639.1M865 645.5L901.8 644.3" stroke="#d9d9d9" stroke-width="2.2"/>
<path d="M865 627.2L901.8 626.0M865 632.4L901.8 631.2M865 637.6L901.8 636.4M865 642.8L901.8 641.6M865 648.0L901.8 646.8" stroke="#5e5e5e" stroke-width="0.9"/>
<path d="M864.6 620.2H902.2" stroke="#777" stroke-width="1"/>
<path d="M870.5 650.5H896.5L892 656.5Q883.4 660 875 656.5Z" fill="#2a2a2a"/>
<rect x="811" y="714.6" width="144.7" height="82.9" fill="#222"/>
<g>
<rect x="812" y="715.6" width="142.5" height="80.6" fill="url(#tvg)"/>
<rect x="812" y="715.6" width="142.5" height="80.6" fill="url(#tvr_dark)"/>
<rect x="812" y="715.6" width="142.5" height="80.6" fill="url(#tvr_brown)"/>
<rect x="812" y="715.6" width="142.5" height="80.6" fill="url(#tvr_light)"/>
<rect x="812" y="715.6" width="142.5" height="80.6" fill="url(#tvr_cyan)"/>
<rect x="812" y="715.6" width="142.5" height="80.6" fill="url(#tvr_pink)"/>
<rect x="812" y="715.6" width="142.5" height="80.6" fill="url(#tvr_tr)"/>
<rect x="812" y="715.6" width="142.5" height="80.6" fill="url(#tvr_blue)"/>
<rect x="812" y="715.6" width="142.5" height="80.6" fill="url(#tvr_mag)"/>
<g filter="url(#blur08)" stroke-linecap="round" fill="none"><path d="M868 722Q880 745 872 770Q868 785 880 795" stroke="#e8f4f8" stroke-width="2" opacity="0.55"/><path d="M900 722Q905 760 885 790" stroke="#c8f0f0" stroke-width="1.4" opacity="0.6"/><path d="M815 790Q850 780 890 787Q920 790 953 785" stroke="#c8e8ee" stroke-width="2.2" opacity="0.6"/><path d="M860 760Q890 770 930 778" stroke="#d8f0f4" stroke-width="1.2" opacity="0.5"/><path d="M880 725L905 745" stroke="#f4eef8" stroke-width="1.4" opacity="0.5"/></g>
<path d="M841 737Q846 734 852 735L856 740Q850 745 844 744Z" fill="#e6d25a" filter="url(#blur08)"/>
<path d="M852 736L864 738L862 746L855 745Z" fill="#cde6f2" opacity="0.85" filter="url(#blur08)"/>
</g>
<path d="M830.6 797.5L828.6 803.5M935.4 797.5L937.4 803.5" stroke="#222" stroke-width="2"/>
<text x="122" y="385.6" font-size="24" fill="#111" font-weight="normal" text-anchor="middle" >Solar Power</text>
<text x="122.9" y="626.5" font-size="24" fill="#111" font-weight="normal" text-anchor="middle" >Generator</text>
<text x="121.8" y="884.7" font-size="24" fill="#111" font-weight="normal" text-anchor="middle" >Utility</text>
<text x="881.8" y="834.5" font-size="24.2" fill="#111" font-weight="normal" text-anchor="middle" >Home Appliances</text>
<text x="500" y="905.8" font-size="24" fill="#111" font-weight="normal" text-anchor="middle" >External Battery Packs</text>
<text x="500.8" y="930" font-size="18.3" fill="#7f7f7f" font-weight="normal" text-anchor="middle" >Charging Voltage Adjustable</text></svg>
</body></html>
